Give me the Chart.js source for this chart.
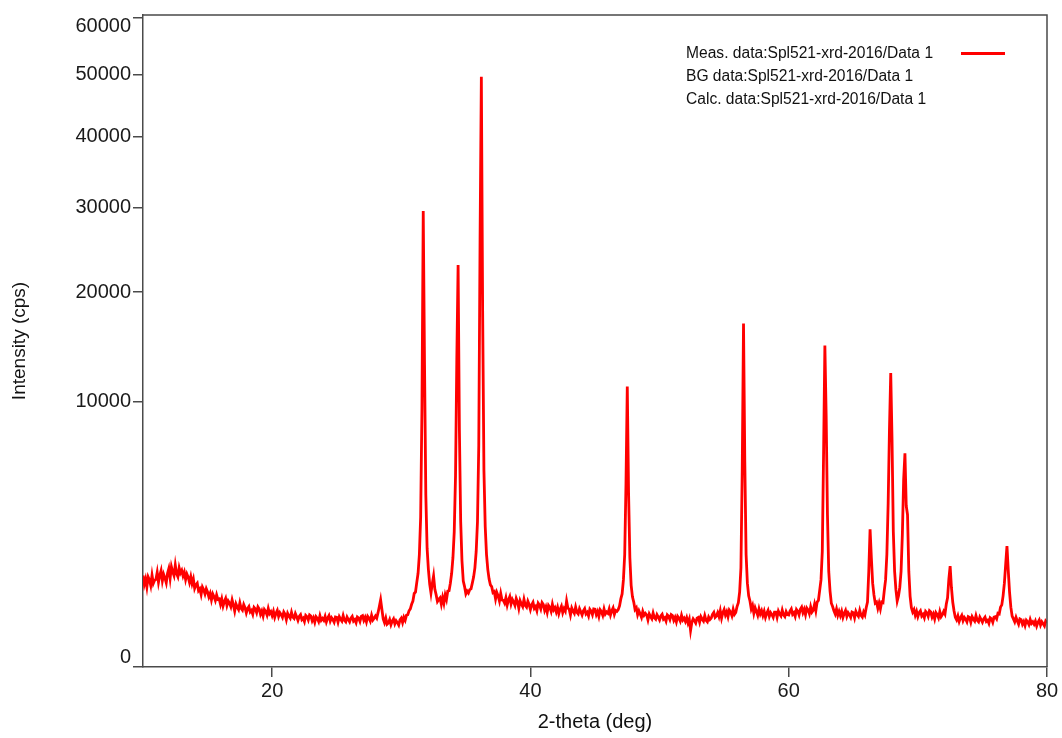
<!DOCTYPE html>
<html>
<head>
<meta charset="utf-8">
<title>XRD pattern</title>
<script src="https://cdn.jsdelivr.net/npm/chart.js@4.4.1/dist/chart.umd.min.js"></script>
<style>
  html, body { margin: 0; padding: 0; background: #fff; }
  #wrap { position: relative; width: 1062px; height: 738px; }
  #legend { position: absolute; left: 686px; top: 41px; font: 15.6px "Liberation Sans", Arial, sans-serif; color: #111; }
  #legend .row { position: relative; white-space: nowrap; height: 23px; line-height: 23px; }
  #legend .swatch { position: absolute; left: 275px; top: 11px; width: 44px; height: 2.5px; background: #ff0000; }
</style>
</head>
<body>
<div id="wrap">
  <canvas id="xrd" width="1062" height="738"></canvas>
  <div id="legend"></div>
</div>
<script>
// 2-theta grid of the measured scan
const thetaStart = 10;
const thetaStep = 0.1;

// measured intensity (cps), one line per degree: x.0 ... x.9
const intensity = [
  1190, 975, 1100, 910, 1155, 1080, 945, 1200, 995, 1070,      // 10
  1090, 1275, 1020, 1195, 1320, 1055, 1220, 1125, 1010, 1250,  // 11
  1380, 1120, 1430, 1290, 1190, 1480, 1240, 1160, 1400, 1260,  // 12
  1330, 1180, 1280, 1090, 1230, 1150, 1020, 1160, 990, 1100,   // 13
  880, 960, 1000, 830, 870, 750, 910, 850, 760, 870,           // 14
  800, 700, 770, 640, 760, 700, 630, 740, 650, 660,            // 15
  560, 660, 530, 610, 670, 540, 620, 580, 520, 640,            // 16
  545, 445, 565, 510, 470, 585, 490, 460, 555, 500,            // 17
  415, 485, 520, 430, 455, 395, 505, 480, 420, 515,            // 18
  480, 395, 445, 370, 470, 440, 385, 485, 405, 435,            // 19
  375, 440, 350, 410, 455, 365, 420, 390, 350, 430,            // 20
  395, 320, 410, 370, 340, 425, 355, 335, 405, 360,            // 21
  310, 365, 390, 320, 340, 295, 380, 360, 315, 385,            // 22
  370, 305, 345, 285, 360, 335, 295, 375, 310, 335,            // 23
  310, 365, 290, 340, 375, 300, 345, 320, 285, 355,            // 24
  350, 285, 360, 325, 300, 375, 310, 290, 355, 320,            // 25
  290, 340, 365, 300, 320, 280, 355, 340, 295, 365,            // 26
  375, 310, 350, 290, 365, 340, 300, 380, 315, 340,            // 27
  370, 340, 420, 520, 640, 470, 330, 280, 340, 260,            // 28
  275, 320, 255, 300, 330, 265, 305, 280, 250, 315,            // 29
  340, 280, 350, 310, 380, 390, 450, 480, 560, 620,            // 30
  770, 800, 1020, 1250, 1800, 3200, 9500, 29600, 13000, 4200,  // 31
  2000, 1350, 980, 780, 990, 1180, 860, 740, 610, 650,         // 32
  680, 560, 690, 580, 740, 650, 820, 830, 1000, 1250,          // 33
  1700, 2600, 5200, 13500, 23000, 8000, 3000, 1600, 1050, 920, // 34
  760, 820, 780, 850, 870, 1000, 1150, 1400, 1900, 3000,       // 35
  7000, 26000, 49600, 18000, 5500, 2800, 1800, 1350, 1100, 960,// 36
  920, 790, 810, 660, 790, 720, 620, 770, 640, 630,            // 37
  580, 680, 545, 640, 705, 565, 650, 600, 540, 670,            // 38
  605, 490, 625, 565, 520, 650, 540, 510, 615, 555,            // 39
  470, 550, 595, 490, 520, 450, 580, 545, 480, 590,            // 40
  555, 455, 515, 425, 540, 505, 440, 560, 465, 500,            // 41
  430, 505, 405, 475, 525, 420, 485, 445, 620, 495,            // 42
  475, 385, 495, 445, 410, 510, 425, 400, 485, 435,            // 43
  385, 450, 485, 400, 425, 370, 475, 445, 390, 480,            // 44
  475, 390, 440, 365, 465, 435, 380, 480, 400, 430,            // 45
  410, 480, 385, 450, 495, 395, 455, 440, 470, 530,            // 46
  660, 760, 1080, 1800, 4800, 11200, 4300, 1700, 950, 700,     // 47
  600, 470, 500, 390, 450, 400, 350, 440, 380, 410,            // 48
  385, 315, 400, 360, 330, 415, 345, 325, 390, 355,            // 49
  315, 370, 395, 325, 345, 300, 385, 365, 320, 390,            // 50
  375, 310, 350, 290, 365, 340, 300, 380, 315, 340,            // 51
  295, 345, 275, 325, 190, 285, 330, 305, 275, 340,            // 52
  350, 285, 360, 325, 300, 375, 310, 290, 355, 320,            // 53
  340, 395, 425, 350, 370, 420, 360, 450, 340, 420,            // 54
  470, 385, 435, 360, 460, 430, 375, 475, 395, 425,            // 55
  520, 590, 800, 1400, 5500, 16800, 6000, 1800, 1000, 720,     // 56
  620, 480, 540, 410, 500, 440, 380, 480, 400, 450,            // 57
  375, 440, 350, 410, 455, 365, 420, 390, 350, 430,            // 58
  430, 350, 445, 400, 370, 460, 385, 360, 435, 390,            // 59
  385, 445, 480, 395, 420, 365, 470, 440, 385, 475,            // 60
  510, 420, 475, 390, 495, 465, 405, 515, 430, 460,            // 61
  560, 450, 600, 630, 840, 1080, 1900, 6500, 14700, 9000,      // 62
  3300, 1300, 820, 580, 520, 450, 400, 480, 380, 440,          // 63
  375, 440, 350, 410, 455, 365, 420, 390, 350, 430,            // 64
  420, 345, 440, 395, 365, 455, 380, 355, 430, 385,            // 65
  500, 600, 1300, 2700, 1700, 1000, 740, 580, 600, 490,        // 66
  580, 480, 600, 590, 830, 1080, 1800, 3800, 8000, 12300,      // 67
  7400, 2600, 1300, 850, 620, 720, 900, 1300, 2500, 5000,      // 68
  6500, 3700, 3300, 1300, 710, 500, 430, 470, 380, 440,        // 69
  360, 420, 450, 370, 395, 345, 440, 415, 365, 450,            // 70
  430, 355, 400, 330, 420, 390, 345, 435, 360, 390,            // 71
  440, 400, 560, 680, 1100, 1450, 900, 600, 450, 350,          // 72
  315, 370, 295, 345, 380, 305, 350, 325, 290, 360,            // 73
  350, 285, 360, 325, 300, 375, 310, 290, 355, 320,            // 74
  285, 330, 355, 295, 310, 270, 345, 330, 285, 355,            // 75
  360, 330, 410, 400, 510, 550, 720, 1000, 1500, 2080,         // 76
  1330, 800, 510, 370, 330, 290, 350, 300, 260, 330,           // 77
  320, 260, 295, 245, 310, 290, 255, 320, 270, 290,            // 78
  260, 300, 240, 285, 315, 250, 290, 265, 240, 300,            // 79
  280                                                          // 80
];

const yTickValues = [0, 10000, 20000, 30000, 40000, 50000, 60000];
const xTickValues = [20, 40, 60, 80];
const legendLabels = [
  'Meas. data:Spl521-xrd-2016/Data 1',
  'BG data:Spl521-xrd-2016/Data 1',
  'Calc. data:Spl521-xrd-2016/Data 1'
];

const LINE_RED = '#ff0000';
const AXIS_GREY = '#4a4a4a';
const FONT = '"Liberation Sans", Arial, sans-serif';

// square-root intensity axis, as the diffractometer software draws it
class SqrtScale extends Chart.LinearScale {
  getPixelForValue(value) {
    const lo = Math.sqrt(Math.max(this.min, 0));
    const hi = Math.sqrt(this.max);
    return this.getPixelForDecimal((Math.sqrt(Math.max(value, 0)) - lo) / (hi - lo));
  }
  getValueForPixel(pixel) {
    const lo = Math.sqrt(Math.max(this.min, 0));
    const hi = Math.sqrt(this.max);
    const r = lo + this.getDecimalForPixel(pixel) * (hi - lo);
    return r * r;
  }
}
SqrtScale.id = 'sqrt';
SqrtScale.defaults = {};
Chart.register(SqrtScale);

// frame on top/right, and nudge end labels inside like the original
const framePlugin = {
  id: 'frame',
  beforeDraw(chart) {
    const items = chart.scales.y.getLabelItems(chart.chartArea);
    if (items.length) {
      items[0].options.translation[1] -= 10;
      items[items.length - 1].options.translation[1] += 9;
    }
  },
  afterDraw(chart) {
    const { ctx, chartArea: a } = chart;
    ctx.save();
    ctx.strokeStyle = AXIS_GREY;
    ctx.lineWidth = 1.5;
    ctx.beginPath();
    ctx.moveTo(a.left, a.top);
    ctx.lineTo(a.right, a.top);
    ctx.lineTo(a.right, a.bottom);
    ctx.stroke();
    ctx.restore();
  }
};

const points = intensity.map((v, i) => ({ x: +(thetaStart + i * thetaStep).toFixed(2), y: v }));

new Chart(document.getElementById('xrd'), {
  type: 'line',
  data: {
    datasets: [{
      label: legendLabels[0],
      data: points,
      borderColor: LINE_RED,
      borderWidth: 2.8,
      pointRadius: 0,
      tension: 0,
      fill: false
    }]
  },
  options: {
    responsive: false,
    animation: false,
    events: [],
    layout: { padding: { left: 0, right: 15, top: 15, bottom: 0 } },
    plugins: { legend: { display: false }, tooltip: { enabled: false } },
    scales: {
      x: {
        type: 'linear',
        min: 10,
        max: 80,
        afterBuildTicks: s => { s.ticks = xTickValues.map(v => ({ value: v })); },
        afterFit: s => { s.height = 71; },
        grid: { drawOnChartArea: false, tickLength: 10, color: AXIS_GREY, lineWidth: 1.5 },
        border: { color: AXIS_GREY, width: 1.5 },
        ticks: { color: '#1a1a1a', font: { family: FONT, size: 20 }, padding: 2, maxRotation: 0 },
        title: {
          display: true, text: '2-theta (deg)', color: '#111',
          font: { family: FONT, size: 20 }, padding: { top: 0, bottom: 4 }
        }
      },
      y: {
        type: 'sqrt',
        min: 0,
        max: 60500,
        afterBuildTicks: s => { s.ticks = yTickValues.map(v => ({ value: v })); },
        afterFit: s => { s.width = 143; },
        grid: { drawOnChartArea: false, tickLength: 10, color: AXIS_GREY, lineWidth: 1.5 },
        border: { color: AXIS_GREY, width: 1.5 },
        ticks: { color: '#1a1a1a', font: { family: FONT, size: 20 }, padding: 2, callback: v => String(v) },
        title: {
          display: true, text: 'Intensity (cps)', color: '#111',
          font: { family: FONT, size: 19 }, padding: { top: 8, bottom: 0 }
        }
      }
    }
  },
  plugins: [framePlugin]
});

// legend: text first, line sample after it (only measured data has a line)
const legendEl = document.getElementById('legend');
legendLabels.forEach((text, i) => {
  const row = document.createElement('div');
  row.className = 'row';
  row.textContent = text;
  if (i === 0) {
    const sw = document.createElement('span');
    sw.className = 'swatch';
    row.appendChild(sw);
  }
  legendEl.appendChild(row);
});
</script>
</body>
</html>
